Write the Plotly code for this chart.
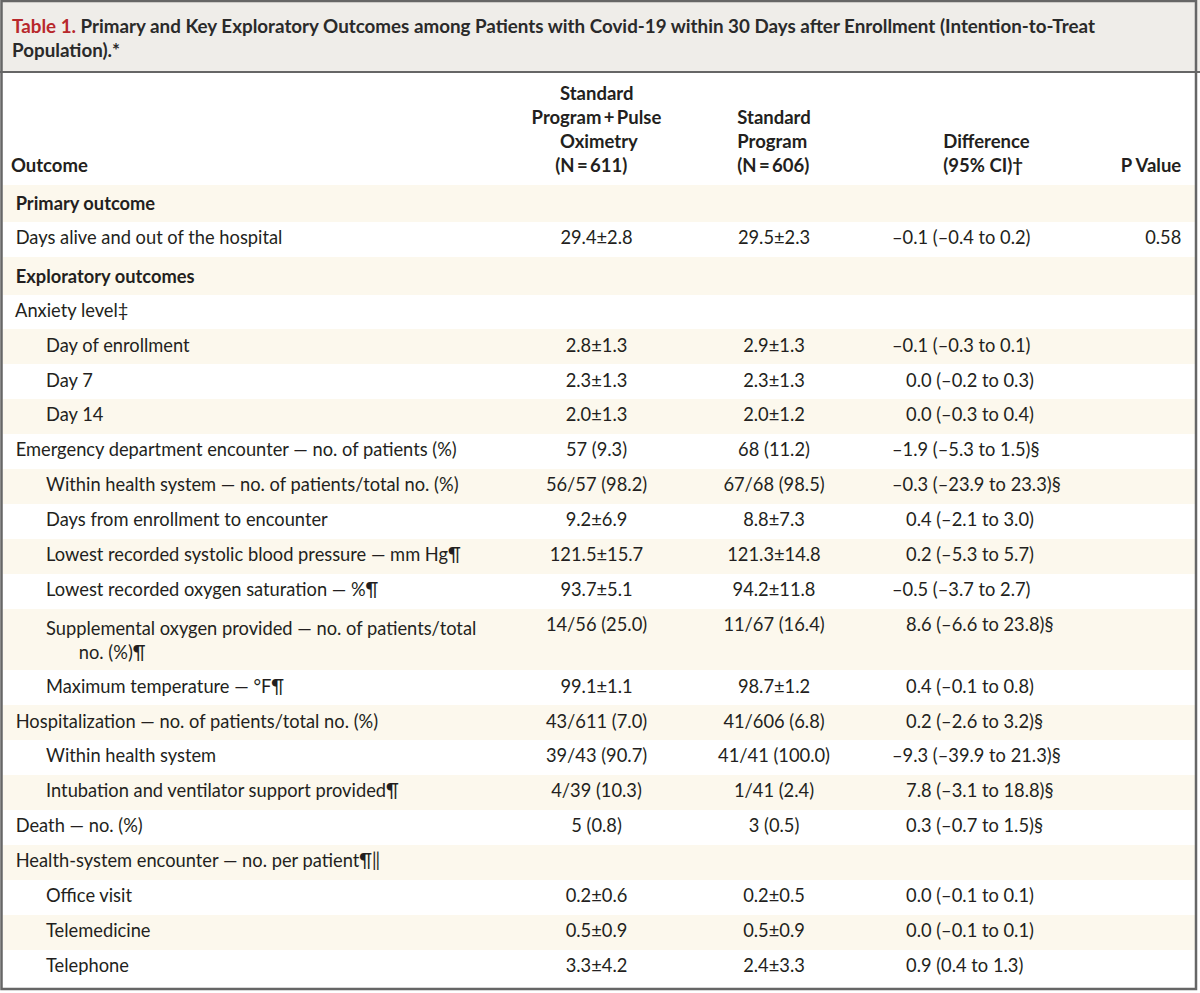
import plotly.graph_objects as go

# ---- table content ----
outcomes = [
    "Primary outcome",
    "Days alive and out of the hospital",
    "Exploratory outcomes",
    "Anxiety level‡",
    "Day of enrollment",
    "Day 7",
    "Day 14",
    "Emergency department encounter — no. of patients (%)",
    "Within health system — no. of patients/total no. (%)",
    "Days from enrollment to encounter",
    "Lowest recorded systolic blood pressure — mm Hg¶",
    "Lowest recorded oxygen saturation — %¶",
    "Supplemental oxygen provided — no. of patients/total|no. (%)¶",
    "Maximum temperature — °F¶",
    "Hospitalization — no. of patients/total no. (%)",
    "Within health system",
    "Intubation and ventilator support provided¶",
    "Death — no. (%)",
    "Health-system encounter — no. per patient¶‖",
    "Office visit",
    "Telemedicine",
    "Telephone",
]
indent_level = [0, 0, 0, 0, 1, 1, 1, 0, 1, 1, 1, 1, 1, 1, 0, 1, 1, 0, 0, 1, 1, 1]
section_rows = ["Primary outcome", "Exploratory outcomes"]

pulse_ox = ["", "29.4±2.8", "", "", "2.8±1.3", "2.3±1.3", "2.0±1.3", "57 (9.3)",
            "56/57 (98.2)", "9.2±6.9", "121.5±15.7", "93.7±5.1", "14/56 (25.0)",
            "99.1±1.1", "43/611 (7.0)", "39/43 (90.7)", "4/39 (10.3)", "5 (0.8)", "",
            "0.2±0.6", "0.5±0.9", "3.3±4.2"]
standard = ["", "29.5±2.3", "", "", "2.9±1.3", "2.3±1.3", "2.0±1.2", "68 (11.2)",
            "67/68 (98.5)", "8.8±7.3", "121.3±14.8", "94.2±11.8", "11/67 (16.4)",
            "98.7±1.2", "41/606 (6.8)", "41/41 (100.0)", "1/41 (2.4)", "3 (0.5)", "",
            "0.2±0.5", "0.5±0.9", "2.4±3.3"]
difference = ["", "–0.1 (–0.4 to 0.2)", "", "", "–0.1 (–0.3 to 0.1)", "0.0 (–0.2 to 0.3)",
              "0.0 (–0.3 to 0.4)", "–1.9 (–5.3 to 1.5)§", "–0.3 (–23.9 to 23.3)§",
              "0.4 (–2.1 to 3.0)", "0.2 (–5.3 to 5.7)", "–0.5 (–3.7 to 2.7)",
              "8.6 (–6.6 to 23.8)§", "0.4 (–0.1 to 0.8)", "0.2 (–2.6 to 3.2)§",
              "–9.3 (–39.9 to 21.3)§", "7.8 (–3.1 to 18.8)§", "0.3 (–0.7 to 1.5)§", "",
              "0.0 (–0.1 to 0.1)", "0.0 (–0.1 to 0.1)", "0.9 (0.4 to 1.3)"]
p_value = ["", "0.58"] + [""] * 20

header_labels = ["Outcome",
                 "Standard|Program\u2009+\u2009Pulse|Oximetry|(N\u2009=\u2009611)",
                 "Standard|Program|(N\u2009=\u2009606)",
                 "Difference|(95% CI)†",
                 "P Value"]
# left nudge per header line (in nbsp) so short lines look centred
header_nudge = [[0], [6, 0, 6, 5], [0, 0, 0], [0, 0], [0]]

title_lead = "Table 1."
title_text = ("Primary and Key Exploratory Outcomes among Patients with Covid-19 within "
              "30 Days after Enrollment (Intention-to-Treat|Population).*")

FONT = "Lato"
TXT = "#231f20"
CREAM = "#fcf8ed"
BAND = "#efede9"
BORDER = "#666666"
NB = "\u00a0"


def bold_lines(s, nudge, pad_to=4):
    lines = s.split("|")
    out = [NB * n + "<b>" + ln + "</b>" for ln, n in zip(lines, nudge)]
    # push header text down so it sits on the bottom line
    return "<br>".join([NB] * (pad_to - len(lines)) + out)


def outcome_cell(label, level):
    lead = NB + (NB * 6 + "\u2009") * level
    parts = label.split("|")
    first = lead + parts[0]
    if label in section_rows:
        first = lead + "<b>" + parts[0] + "</b>"
    rest = [lead + NB * 7 + p for p in parts[1:]]
    return "<br>".join([first] + rest)


def dec_pad(s):
    # hang the minus sign so the numbers line up on the decimal
    if s and not s.startswith("–"):
        return NB * 3 + s
    return s


col_outcome = [outcome_cell(o, lv) for o, lv in zip(outcomes, indent_level)]
col_diff = [dec_pad(d) for d in difference]
col_p = [p + NB for p in p_value]
header_vals = [bold_lines(h, n) for h, n in zip(header_labels, header_nudge)]
header_vals[-1] += NB

fills = [CREAM if i % 2 == 0 else "white" for i in range(len(outcomes))]

W, H = 1200, 993
top_band = 72

fig = go.Figure(go.Table(
    domain=dict(x=[3 / W, 1194 / W], y=[4 / H, 1 - (top_band + 2) / H]),
    columnwidth=[526, 135, 220, 205, 105],
    header=dict(
        values=header_vals,
        align=["left", "center", "center", "center", "right"],
        fill_color="white",
        line_color="white",
        font=dict(family=FONT, size=18.5, color=TXT),
        height=26,
    ),
    cells=dict(
        values=[col_outcome, pulse_ox, standard, col_diff, col_p],
        align=["left", "center", "center", "left", "right"],
        fill_color=[fills] * 5,
        line_color=[fills] * 5,
        font=dict(family=FONT, size=18.3, color=TXT),
        height=34.9,
    ),
))

title_html = ("<b><span style='color:#b8282c'>" + title_lead + "</span> "
              + "<br>".join(title_text.split("|")) + "</b>")

fig.update_layout(
    width=W,
    height=H,
    margin=dict(l=0, r=0, t=0, b=0),
    paper_bgcolor="white",
    shapes=[
        dict(type="rect", xref="paper", yref="paper",
             x0=0, x1=1, y0=1 - top_band / H, y1=1,
             fillcolor=BAND, line_width=0, layer="below"),
        dict(type="line", xref="paper", yref="paper",
             x0=0, x1=1, y0=1 - top_band / H, y1=1 - top_band / H,
             line=dict(color=BORDER, width=2)),
        dict(type="rect", xref="paper", yref="paper",
             x0=1.5 / W, x1=1 - 4 / W, y0=4 / H, y1=1 - 1 / H,
             line=dict(color=BORDER, width=2.5)),
    ],
    annotations=[dict(
        xref="paper", yref="paper", x=10 / W, y=1 - 12 / H,
        xanchor="left", yanchor="top", align="left",
        text=title_html, showarrow=False,
        font=dict(family=FONT, size=18.8, color="#2a2a2a"),
    )],
)

fig.write_html("out.html", config={"displayModeBar": False},
               post_script="document.body.style.margin='0';")
